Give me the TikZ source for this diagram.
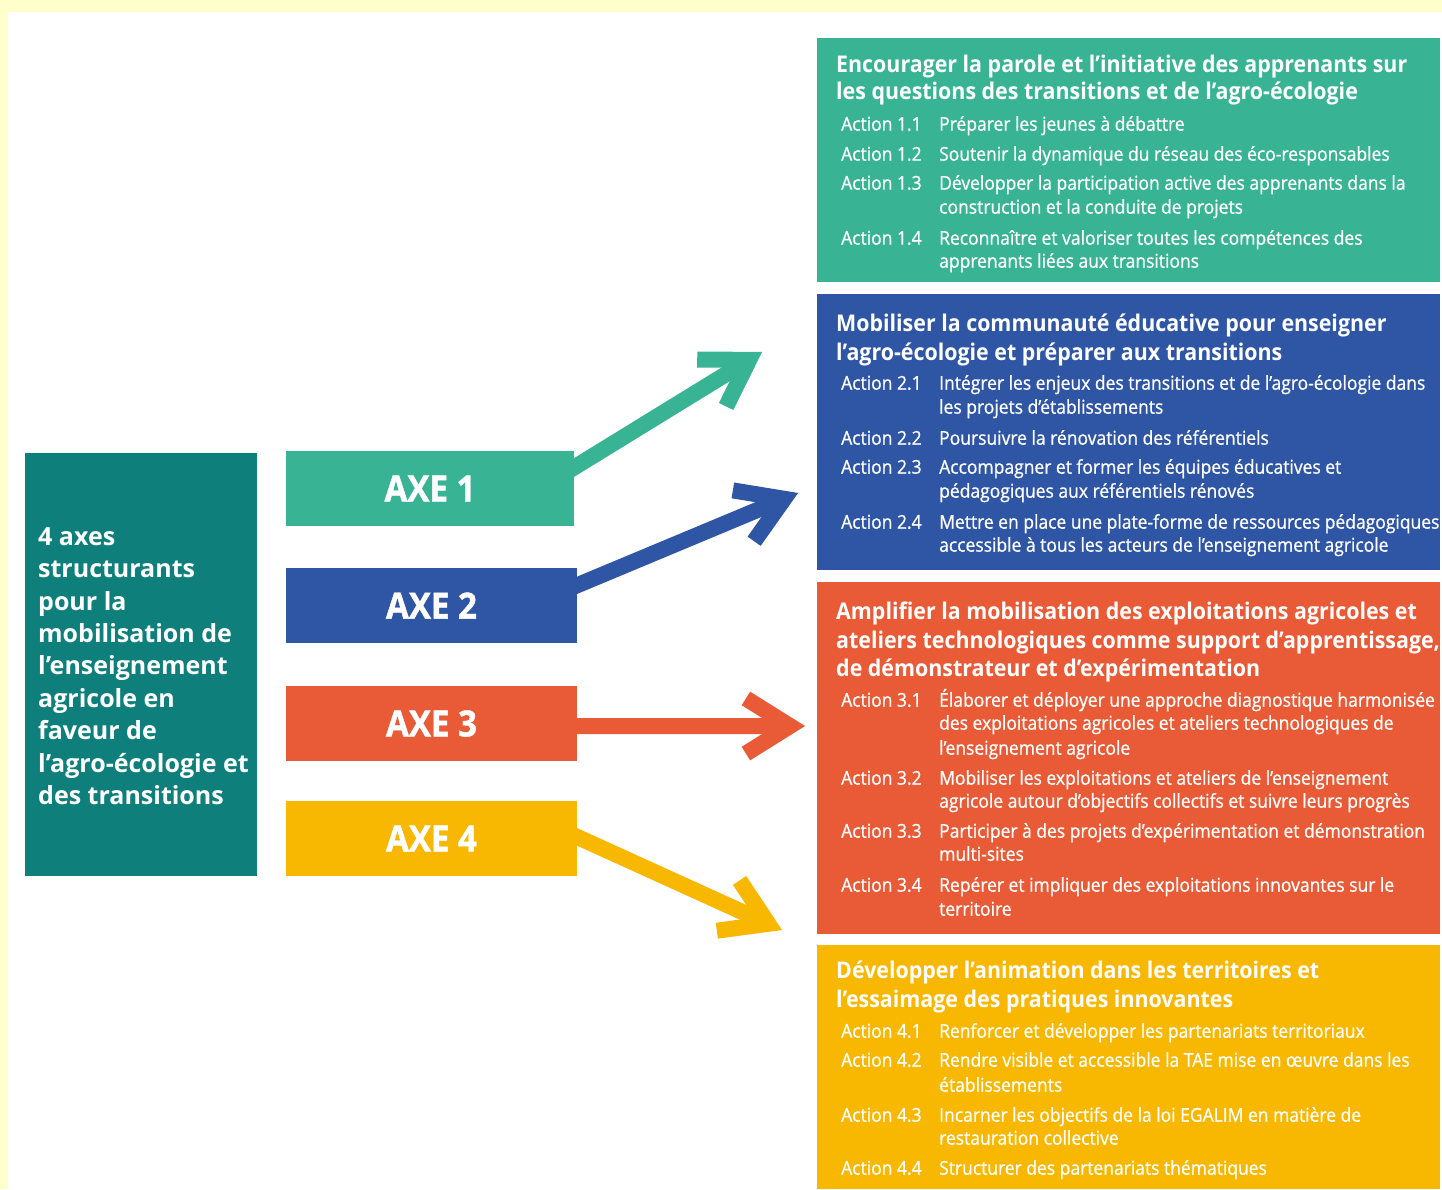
\documentclass[tikz,border=0pt]{standalone}
\usepackage{fontspec}
\setmainfont{Open Sans}
\newfontfamily\headfont[FakeStretch=0.93]{Open Sans}
\newfontfamily\actfont[FakeStretch=0.92,FakeBold=0.8]{Open Sans}
\newfontfamily\axefont[FakeStretch=0.92,FakeBold=1.2]{Open Sans}
\usetikzlibrary{calc}
\definecolor{bgyel}{HTML}{FFFFCC}
\definecolor{cteal}{HTML}{0F7F7C}
\definecolor{cgreen}{HTML}{38B494}
\definecolor{cblue}{HTML}{2F55A5}
\definecolor{corange}{HTML}{E95B36}
\definecolor{cyellow}{HTML}{F8B700}
\tikzset{
  panel/.style={anchor=north west, inner sep=0pt, outer sep=0pt, draw=none},
  axebox/.style={panel, minimum height=75bp, text=white, font=\axefont\bfseries\fontsize{36bp}{40bp}\selectfont},
  head/.style={anchor=mid west, inner sep=0pt, yshift=-6bp, text=white, font=\headfont\bfseries\fontsize{23bp}{28bp}\selectfont},
  actlab/.style={anchor=mid west, inner sep=0pt, yshift=-5bp, text=white, font=\actfont\fontsize{19bp}{24bp}\selectfont},
  acttxt/.style={actlab},
  arrowline/.style={draw=#1, line width=16bp, line join=miter, line cap=butt},
}
\newcommand\actL[4]{\node[actlab] (#1l) at (841,#2) {Action #3}; \node[acttxt] (#1t) at (939,#2) {#4};}
\newcommand\actC[3]{\node[acttxt] (#1) at (939,#2) {#3};}
\newcommand\headL[3]{\node[head] (#1) at (836,#2) {#3};}
\newcommand\chevarrow[4]{%
  \draw[arrowline=#1] (#2) -- ($(#3)+(#4+180:15)$);
  \draw[arrowline=#1] ($(#3)+(#4+180:15)+(#4+180-32:52)$) -- ($(#3)+(#4+180:15)$) -- ($(#3)+(#4+180:15)+(#4+180+32:52)$);}
\begin{document}
\begin{tikzpicture}[x=1bp,y=-1bp]
\useasboundingbox (0,0) rectangle (1442,1189);
\fill[bgyel] (0,0) rectangle (1442,1189);
\fill[white] (8,12) rectangle (1442,1189);

% left box
\node[panel, fill=cteal, minimum width=232bp, minimum height=423bp] (main) at (25,453) {};
\node[anchor=west, inner sep=0pt, align=left, text=white, font=\bfseries\fontsize{25bp}{32.4bp}\selectfont] (maintxt) at (38,666)
  {4 axes\\structurants\\pour la\\mobilisation de\\l’enseignement\\agricole en\\faveur de\\l’agro-écologie et\\des transitions};

% axes
\node[axebox, fill=cgreen, minimum width=288bp] (axe1) at (286,451) {AXE 1};
\node[axebox, fill=cblue, minimum width=291bp] (axe2) at (286,568) {AXE 2};
\node[axebox, fill=corange, minimum width=291bp] (axe3) at (286,686) {AXE 3};
\node[axebox, fill=cyellow, minimum width=291bp] (axe4) at (286,801) {AXE 4};

% right panels
\node[panel, fill=cgreen, minimum width=623bp, minimum height=244bp] (p1) at (817,38) {};
\node[panel, fill=cblue, minimum width=623bp, minimum height=276bp] (p2) at (817,294) {};
\node[panel, fill=corange, minimum width=623bp, minimum height=352bp] (p3) at (817,582) {};
\node[panel, fill=cyellow, minimum width=623bp, minimum height=244bp] (p4) at (817,945) {};

% arrows
\coordinate (s1) at ($(axe1.east)+(-4,-18.5)$);
\coordinate (s2) at ($(axe2.east)+(-4,-18.5)$);
\coordinate (s3) at ($(axe3.east)+(-4,2.5)$);
\coordinate (s4) at ($(axe4.east)+(-4,-3.5)$);
\coordinate (t1) at (762,352);
\coordinate (t2) at (798,493);
\coordinate (t3) at (805,726);
\coordinate (t4) at (782,930);
\chevarrow{cgreen}{s1}{t1}{-31.6}
\chevarrow{cblue}{s2}{t2}{-22.7}
\chevarrow{corange}{s3}{t3}{0}
\chevarrow{cyellow}{s4}{t4}{24.4}

% panel 1
\headL{h1a}{64}{Encourager la parole et l’initiative des apprenants sur}
\headL{h1b}{91}{les questions des transitions et de l’agro-écologie}
\actL{a11}{123}{1.1}{Préparer les jeunes à débattre}
\actL{a12}{153}{1.2}{Soutenir la dynamique du réseau des éco-responsables}
\actL{a13}{182}{1.3}{Développer la participation active des apprenants dans la}
\actC{a13b}{206}{construction et la conduite de projets}
\actL{a14}{237}{1.4}{Reconnaître et valoriser toutes les compétences des}
\actC{a14b}{260}{apprenants liées aux transitions}

% panel 2
\headL{h2a}{323}{Mobiliser la communauté éducative pour enseigner}
\headL{h2b}{352}{l’agro-écologie et préparer aux transitions}
\actL{a21}{382}{2.1}{Intégrer les enjeux des transitions et de l’agro-écologie dans}
\actC{a21b}{406}{les projets d’établissements}
\actL{a22}{437}{2.2}{Poursuivre la rénovation des référentiels}
\actL{a23}{466}{2.3}{Accompagner et former les équipes éducatives et}
\actC{a23b}{490}{pédagogiques aux référentiels rénovés}
\actL{a24}{521}{2.4}{Mettre en place une plate-forme de ressources pédagogiques}
\actC{a24b}{544}{accessible à tous les acteurs de l’enseignement agricole}

% panel 3
\headL{h3a}{611}{Amplifier la mobilisation des exploitations agricoles et}
\headL{h3b}{640}{ateliers technologiques comme support d’apprentissage,}
\headL{h3c}{668}{de démonstrateur et d’expérimentation}
\actL{a31}{699}{3.1}{Élaborer et déployer une approche diagnostique harmonisée}
\actC{a31b}{722}{des exploitations agricoles et ateliers technologiques de}
\actC{a31c}{747}{l’enseignement agricole}
\actL{a32}{777}{3.2}{Mobiliser les exploitations et ateliers de l’enseignement}
\actC{a32b}{800}{agricole autour d’objectifs collectifs et suivre leurs progrès}
\actL{a33}{830}{3.3}{Participer à des projets d’expérimentation et démonstration}
\actC{a33b}{853}{multi-sites}
\actL{a34}{884}{3.4}{Repérer et impliquer des exploitations innovantes sur le}
\actC{a34b}{908}{territoire}

% panel 4
\headL{h4a}{970}{Développer l’animation dans les territoires et}
\headL{h4b}{999}{l’essaimage des pratiques innovantes}
\actL{a41}{1030}{4.1}{Renforcer et développer les partenariats territoriaux}
\actL{a42}{1059}{4.2}{Rendre visible et accessible la TAE mise en œuvre dans les}
\actC{a42b}{1084}{établissements}
\actL{a43}{1114}{4.3}{Incarner les objectifs de la loi EGALIM en matière de}
\actC{a43b}{1137}{restauration collective}
\actL{a44}{1167}{4.4}{Structurer des partenariats thématiques}
\end{tikzpicture}
\end{document}
